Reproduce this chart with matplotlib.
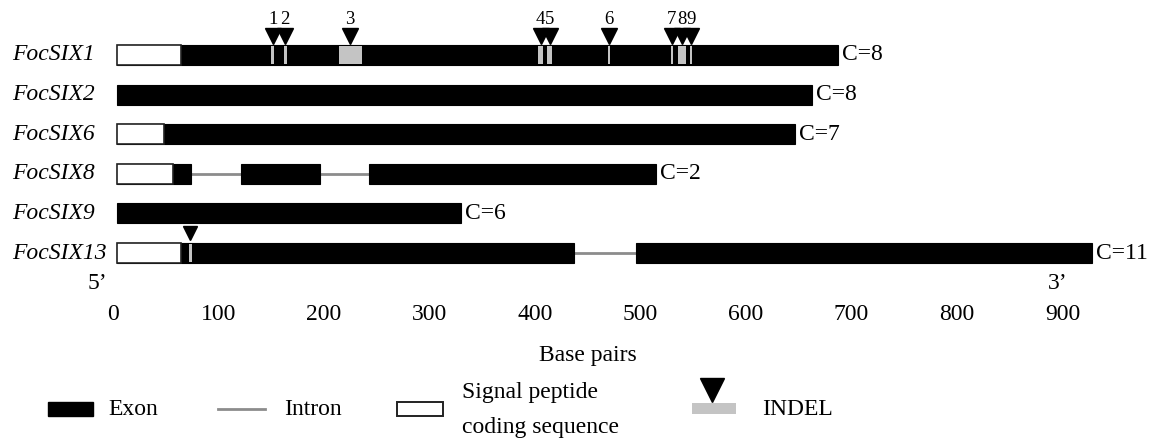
import matplotlib
matplotlib.use('Agg')
import matplotlib.pyplot as plt
from matplotlib.patches import Rectangle

plt.rcParams['font.family'] = ['Liberation Serif', 'DejaVu Serif']

# ---------------- data (base pairs) ----------------
genes = ['FocSIX1', 'FocSIX2', 'FocSIX6', 'FocSIX8', 'FocSIX9', 'FocSIX13']
copy_numbers = [8, 8, 7, 2, 6, 11]
gene_lengths = [683, 659, 643, 511, 326, 924]
signal_peptide_ends = [61, 0, 45, 53, 0, 61]
introns_six8 = [(70, 118), (192, 239)]
introns_six13 = [(433, 492)]
indel_starts_six1 = [146, 158, 210, 399, 408, 465, 525, 532, 543]
indel_ends_six1 = [149, 161, 232, 404, 412, 467, 527, 539, 545]
indel_labels_six1 = ['1', '2', '3', '4', '5', '6', '7', '8', '9']
indel_starts_six13 = [68]
indel_ends_six13 = [71]
x_ticks = [0, 100, 200, 300, 400, 500, 600, 700, 800, 900]

introns = {'FocSIX8': introns_six8, 'FocSIX13': introns_six13}
indels = {'FocSIX1': list(zip(indel_starts_six1, indel_ends_six1)),
          'FocSIX13': list(zip(indel_starts_six13, indel_ends_six13))}

# ---------------- layout ----------------
W, H = 1159, 448
fig = plt.figure(figsize=(W / 100, H / 100), dpi=100)
ax = fig.add_axes([0, 0, 1, 1])
X0, SX = 117, 1.055     # pixel of 0 bp, pixels per bp
Y0, SY = 55, 39.6       # pixel of first row, pixels per row
ax.set_xlim(-X0 / SX, (W - X0) / SX)
ax.set_ylim((H - Y0) / SY, -Y0 / SY)
ax.axis('off')

def px2x(px):
    return (px - X0) / SX

def py2y(py):
    return (py - Y0) / SY

bar_h = 20 / SY
EXON = 'black'
INTRON = '#8c8c8c'
INDEL = '#c4c4c4'
FS = 17

for i, (g, L, sp, c) in enumerate(zip(genes, gene_lengths, signal_peptide_ends, copy_numbers)):
    ints = introns.get(g, [])
    pos = 0
    pieces = []
    for a, b in ints:
        pieces.append((pos, a))
        pos = b
    pieces.append((pos, L))
    for a, b in pieces:
        ax.add_patch(Rectangle((a, i - bar_h / 2), b - a, bar_h, fc=EXON, ec=EXON, lw=0.8, zorder=2))
    for a, b in ints:
        ax.plot([a, b], [i, i], color=INTRON, lw=2.0, zorder=1, solid_capstyle='butt')
    if sp > 0:
        ax.add_patch(Rectangle((0, i - bar_h / 2), sp, bar_h, fc='white', ec='#222222', lw=1.2, zorder=3))
    for a, b in indels.get(g, []):
        ax.add_patch(Rectangle((a, i - bar_h / 2 + 0.03), b - a, bar_h - 0.06, fc=INDEL, ec='none', zorder=4))
    ax.text(px2x(12), i, g, style='italic', fontsize=FS, ha='left', va='center')
    ax.text(L + 4 / SX, i, f'C={c}', fontsize=FS, ha='left', va='center')

# INDEL markers
for a, b in indels['FocSIX1']:
    ax.plot([(a + b) / 2], [py2y(36)], marker='v', color='black', ms=12, ls='none', zorder=5)
for (a, b), lab in zip(indels['FocSIX1'], indel_labels_six1):
    ax.text((a + b) / 2, py2y(19), lab, fontsize=13.5, ha='center', va='center')
for a, b in indels['FocSIX13']:
    ax.plot([(a + b) / 2], [py2y(233)], marker='v', color='black', ms=10, ls='none', zorder=5)

# axis annotations
ax.text(px2x(97), py2y(283), "5\u2019", fontsize=FS, ha='center', va='center')
ax.text(px2x(1058), py2y(283), "3\u2019", fontsize=FS, ha='center', va='center')
for t in x_ticks:
    ax.text(t - 4 / SX, py2y(314), str(t), fontsize=FS, ha='center', va='center')
ax.text(px2x(588), py2y(355), 'Base pairs', fontsize=FS, ha='center', va='center')

# legend
ax.add_patch(Rectangle((px2x(48), py2y(416)), px2x(93) - px2x(48), py2y(402) - py2y(416), fc=EXON, ec=EXON))
ax.text(px2x(108), py2y(409), 'Exon', fontsize=FS, ha='left', va='center')
ax.plot([px2x(218), px2x(265)], [py2y(409), py2y(409)], color=INTRON, lw=2.0)
ax.text(px2x(284), py2y(409), 'Intron', fontsize=FS, ha='left', va='center')
ax.add_patch(Rectangle((px2x(397), py2y(416)), px2x(443) - px2x(397), py2y(402) - py2y(416), fc='white', ec='#222222', lw=1.4))
ax.text(px2x(462), py2y(392), 'Signal peptide', fontsize=FS, ha='left', va='center')
ax.text(px2x(462), py2y(427), 'coding sequence', fontsize=FS, ha='left', va='center')
ax.plot([px2x(712)], [py2y(390)], marker='v', color='black', ms=17, ls='none')
ax.add_patch(Rectangle((px2x(692), py2y(414)), px2x(736) - px2x(692), py2y(403) - py2y(414), fc=INDEL, ec='none'))
ax.text(px2x(762), py2y(409), 'INDEL', fontsize=FS, ha='left', va='center')

fig.savefig('out.png', dpi=100, facecolor='white')
